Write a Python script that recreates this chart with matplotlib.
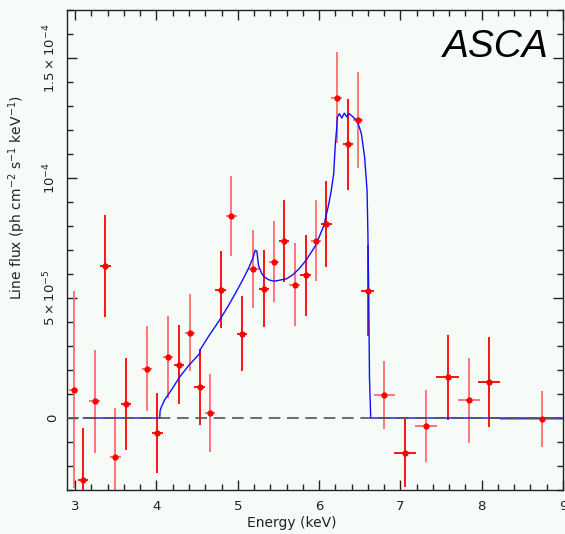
import numpy as np
import matplotlib
matplotlib.use("Agg")
import matplotlib.pyplot as plt
from matplotlib.ticker import MultipleLocator, FixedLocator, FixedFormatter

# Data points (flux in units of 1e-5 ph cm^-2 s^-1 keV^-1)
energy = [2.98, 3.10, 3.24, 3.37, 3.495, 3.625, 3.885, 4.01, 4.14, 4.275,
          4.41, 4.53, 4.66, 4.79, 4.92, 5.05, 5.19, 5.32, 5.445, 5.57,
          5.70, 5.835, 5.96, 6.09, 6.215, 6.355, 6.48, 6.60, 6.80, 7.06,
          7.32, 7.58, 7.84, 8.09, 8.745]
energy_err = [0.05, 0.06, 0.065, 0.065, 0.065, 0.065, 0.065, 0.065, 0.065, 0.065,
              0.065, 0.065, 0.065, 0.065, 0.065, 0.065, 0.065, 0.065, 0.065, 0.065,
              0.065, 0.065, 0.065, 0.065, 0.065, 0.065, 0.065, 0.08, 0.13, 0.135,
              0.135, 0.14, 0.135, 0.14, 0.525]
flux = [1.18, -2.6, 0.7, 6.33, -1.62, 0.58, 2.06, -0.62, 2.53, 2.22,
        3.56, 1.28, 0.21, 5.35, 8.4, 3.52, 6.2, 5.39, 6.52, 7.38,
        5.56, 5.95, 7.39, 8.07, 13.35, 11.4, 12.43, 5.31, 0.97, -1.44,
        -0.35, 1.7, 0.74, 1.49, -0.04]
flux_err = [4.1, 2.2, 2.15, 2.12, 2.04, 1.93, 1.77, 1.68, 1.7, 1.65,
            1.62, 1.58, 1.62, 1.6, 1.67, 1.58, 1.62, 1.6, 1.67, 1.7,
            1.72, 1.68, 1.7, 1.79, 1.9, 1.91, 2.0, 1.9, 1.42, 1.42,
            1.5, 1.77, 1.77, 1.87, 1.16]

# Model curve (same units)
model_e = [3.10, 4.04, 4.045, 4.06, 4.10, 4.20, 4.285, 4.40, 4.53, 4.54,
           4.65, 4.775, 4.88, 4.98, 5.06, 5.14, 5.19, 5.215, 5.235, 5.255,
           5.29, 5.325, 5.38, 5.43, 5.47, 5.51, 5.60, 5.67, 5.75, 5.84,
           5.96, 6.06, 6.12, 6.15, 6.18, 6.20, 6.215, 6.225, 6.25, 6.28,
           6.31, 6.34, 6.37, 6.40, 6.43, 6.46, 6.48, 6.52, 6.56, 6.59,
           6.60, 6.61, 6.62, 6.635, 9.0]
model_flux = [0, 0, 0.3, 0.46, 0.75, 1.25, 1.71, 2.2, 2.68, 2.86,
              3.45, 4.07, 4.65, 5.25, 5.75, 6.29, 6.7, 6.99, 6.95, 6.36,
              6.05, 5.88, 5.76, 5.71, 5.71, 5.74, 5.8, 5.95, 6.2, 6.57,
              7.2, 8.03, 8.93, 9.49, 10.18, 11.43, 12.0, 12.54, 12.68, 12.5,
              12.7, 12.55, 12.68, 12.6, 12.5, 12.4, 12.27, 11.85, 10.87, 9.49,
              7.75, 5.32, 1.64, 0, 0]

ytick_vals = [0, 5, 10, 15]
ytick_labels = ["0", r"$5\times10^{-5}$", r"$10^{-4}$", r"$1.5\times10^{-4}$"]

bg = "#f6fbf8"
fig = plt.figure(figsize=(5.65, 5.34), dpi=100, facecolor=bg)
ax = fig.add_axes([0.1186, 0.0824, 0.8779, 0.8989], facecolor=bg)

# model
ax.plot(model_e, model_flux, color="#1010ff", lw=1.0, zorder=3)

# zero line
ax.axhline(0, color="#555555", lw=1.2, ls=(0, (7, 4)), zorder=4)

# data points, alternating bar shades
for i in range(len(energy)):
    col = "#ff6a6a" if i % 2 == 0 else "#ff0000"
    ax.errorbar(energy[i], flux[i], xerr=energy_err[i], yerr=flux_err[i],
                fmt="none", ecolor=col, elinewidth=1.3, capsize=0, zorder=2)
ax.plot(energy, flux, "o", color="#ff0000", ms=3.5, mec="#ff0000", zorder=5)

ax.set_xlim(2.9, 9.0)
ax.set_ylim(-3.0, 17.0)

ax.xaxis.set_major_locator(MultipleLocator(1))
ax.xaxis.set_minor_locator(MultipleLocator(0.2))
ax.yaxis.set_major_locator(FixedLocator(ytick_vals))
ax.yaxis.set_major_formatter(FixedFormatter(ytick_labels))
ax.yaxis.set_minor_locator(MultipleLocator(1))

ax.tick_params(which="both", direction="in", top=True, right=True,
               color="#222222", width=1.0, labelsize=9.5, labelcolor="#222222")
ax.tick_params(which="major", length=7)
ax.tick_params(which="minor", length=4)
ax.tick_params(axis="x", pad=7)
ax.tick_params(axis="y", pad=6, labelrotation=90)
for lbl in ax.get_yticklabels():
    lbl.set_va("center")

for s in ax.spines.values():
    s.set_color("#222222")
    s.set_linewidth(1.0)

ax.set_xlabel("Energy (keV)", fontsize=10, color="#222222")
ax.xaxis.set_label_coords(0.454, -0.055)
ax.set_ylabel(r"Line flux (ph cm$^{-2}$ s$^{-1}$ keV$^{-1}$)", fontsize=10,
              color="#222222")
ax.yaxis.set_label_coords(-0.078, 0.61)

ax.text(0.972, 0.923, "ASCA", transform=ax.transAxes, ha="right", va="center",
        fontsize=28, style="italic", family="Liberation Sans")

fig.savefig("out.png", dpi=100, facecolor=bg)
